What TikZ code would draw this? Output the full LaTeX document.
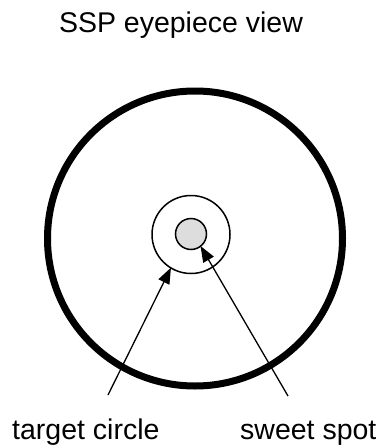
\documentclass[tikz,border=0pt]{standalone}
\usepackage{fontspec}
\setmainfont{Liberation Sans}
\usetikzlibrary{arrows.meta}
\definecolor{spotgray}{HTML}{DDDDDD}
\tikzset{
  labeltext/.style={anchor=base west, font=\fontsize{28.5}{34}\selectfont, inner sep=0pt},
  ring/.style={circle, draw, inner sep=0pt},
  pointer/.style={line width=1.3pt, -{Triangle[length=16pt,width=12pt]}, shorten >=-1pt}
}
\begin{document}
\begin{tikzpicture}[x=1pt,y=-1pt]
\useasboundingbox (0,0) rectangle (382,447);
\node[anchor=base, font=\fontsize{28.5}{34}\selectfont, inner sep=0pt] (title) at (181,32) {SSP eyepiece view};
\node[ring, line width=7pt, minimum size=295pt] (view) at (195,238.5) {};
\node[ring, line width=1.5pt, minimum size=78pt] (tc) at (191,234.5) {};
\node[ring, line width=1.5pt, fill=spotgray, minimum size=31pt] (ss) at (191,234) {};
\coordinate (a1) at (108,395);
\coordinate (a2) at (288,396);
\draw[pointer] (a1) -- (tc.239);
\draw[pointer] (a2) -- (ss.308);
\node[labeltext] (tclabel) at (12,439) {target circle};
\node[labeltext] (sslabel) at (240,439) {sweet spot};
\end{tikzpicture}
\end{document}
